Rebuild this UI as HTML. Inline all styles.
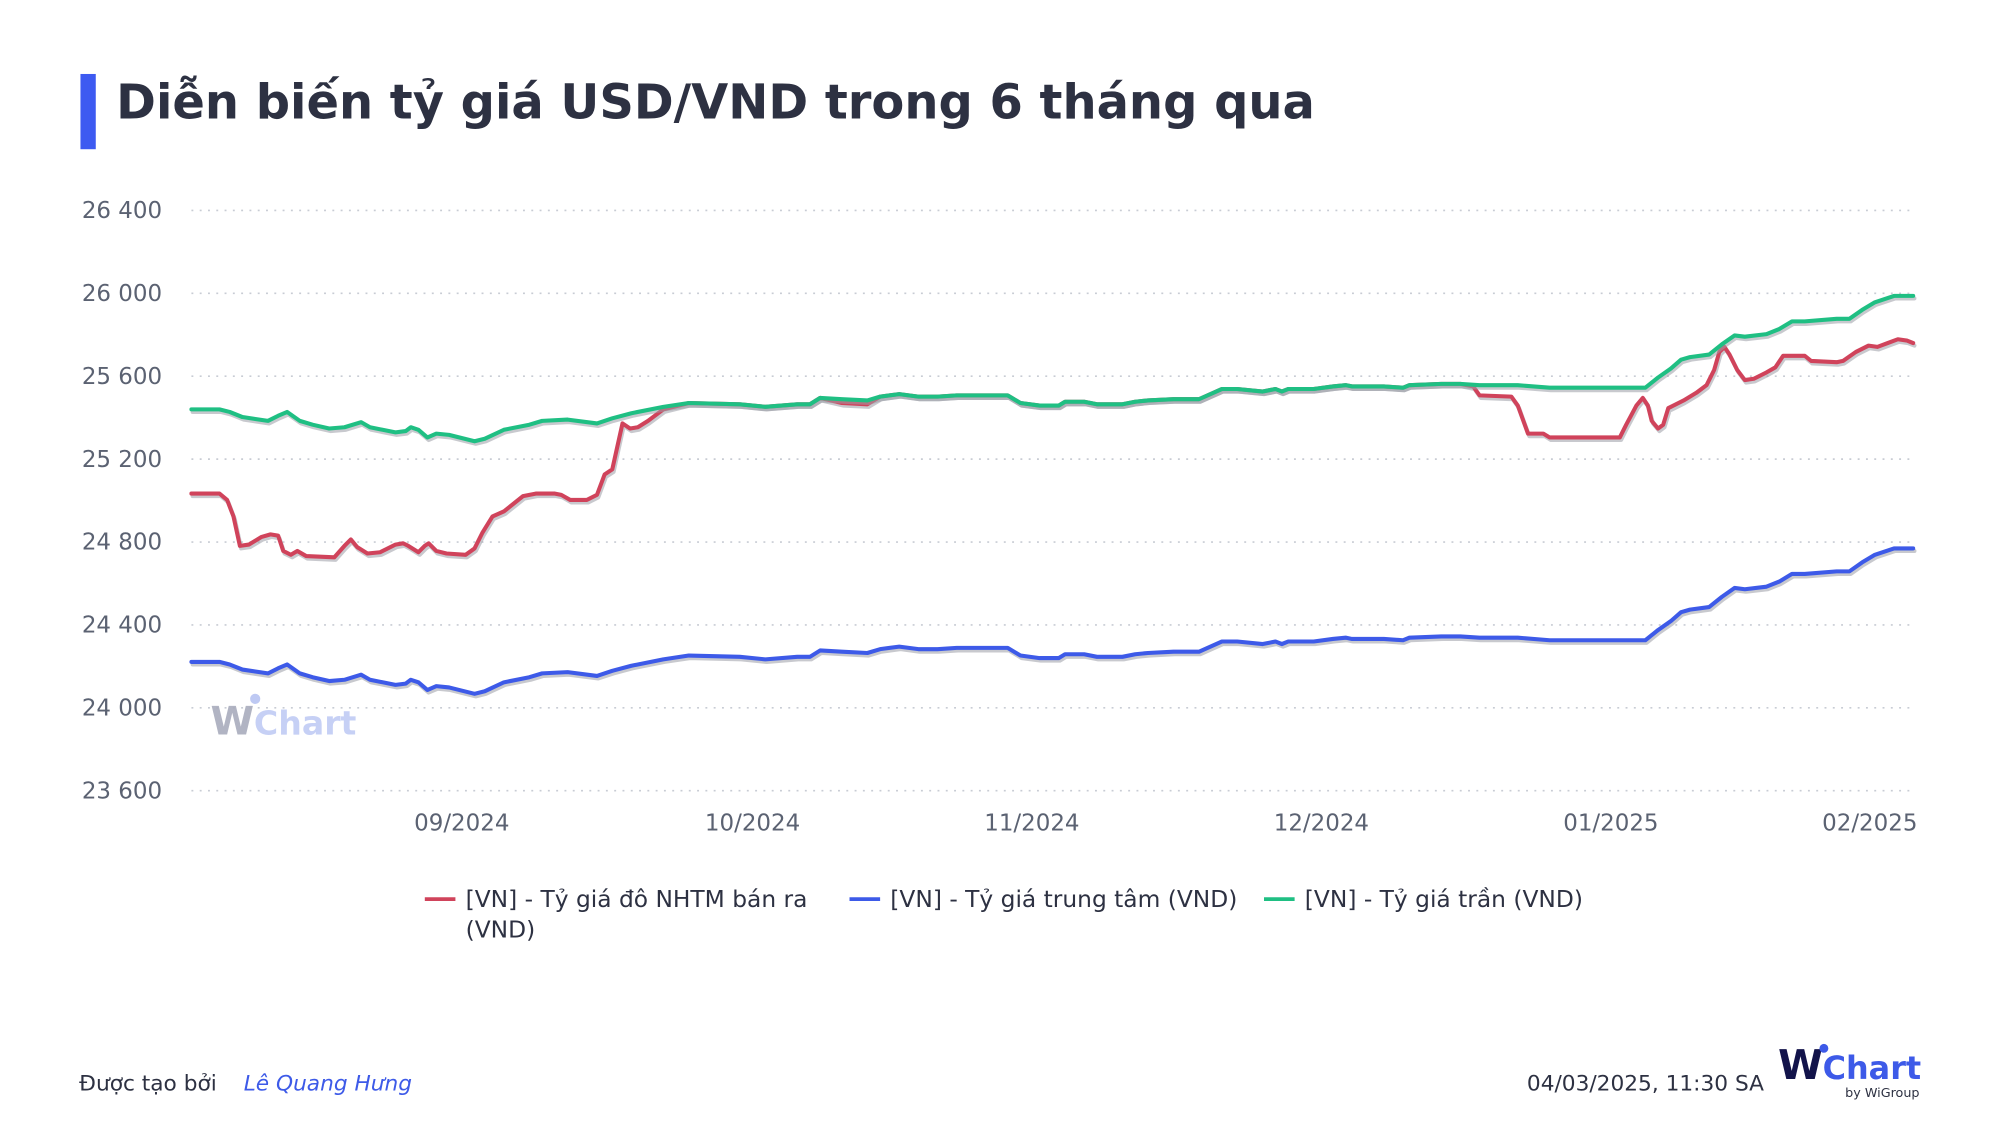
<!DOCTYPE html>
<html><head><meta charset="utf-8"><style>
html,body{margin:0;padding:0;background:#fff;width:2000px;height:1144px;overflow:hidden}
svg{display:block}
text{font-family:"DejaVu Sans","Liberation Sans",sans-serif}
</style></head><body>
<svg id="s" width="2000" height="1144" viewBox="0 0 1568 897" xmlns="http://www.w3.org/2000/svg">
<rect x="63" y="58" width="12" height="59" fill="#3d5af1"/>
<text x="91" y="93" font-size="37.6" font-weight="bold" fill="#2d3142">Diễn biến tỷ giá USD/VND trong 6 tháng qua</text>
<g id="grid" stroke="#c8ccd4" stroke-width="1.3" stroke-dasharray="1.5 5"></g>
<g id="ylab" font-size="18" fill="#5b6272" text-anchor="end"></g>
<g font-size="18" fill="#5b6272" text-anchor="middle">
<text x="362" y="651">09/2024</text><text x="590" y="651">10/2024</text><text x="809" y="651">11/2024</text>
<text x="1036" y="651">12/2024</text><text x="1263" y="651">01/2025</text><text x="1466" y="651">02/2025</text>
</g>
<g opacity="0.9"><text x="165" y="576" font-size="31" font-weight="bold" fill="#a9acbd">W</text>
<circle cx="200" cy="548" r="4" fill="#b8c4f2"/><text x="199" y="576" font-size="26" font-weight="bold" fill="#c0cbf5">Chart</text></g>
<g id="lines" fill="none" stroke-linejoin="round" stroke-linecap="round"></g>
<g font-size="18.3" fill="#2d3142">
<line x1="333" y1="705" x2="357" y2="705" stroke="#d0435b" stroke-width="3"/><text x="365" y="711">[VN] - Tỷ giá đô NHTM bán ra</text><text x="365" y="735">(VND)</text>
<line x1="666" y1="705" x2="690" y2="705" stroke="#3d5ae8" stroke-width="3"/><text x="698" y="711">[VN] - Tỷ giá trung tâm (VND)</text>
<line x1="991" y1="705" x2="1015" y2="705" stroke="#1fbf83" stroke-width="3"/><text x="1023" y="711">[VN] - Tỷ giá trần (VND)</text>
</g>
<text x="62" y="855" font-size="17" fill="#2d3142">Được tạo bởi</text>
<text x="191" y="855" font-size="17" font-style="italic" fill="#3d5ae8">Lê Quang Hưng</text>
<text x="1383" y="855" font-size="17" fill="#2d3142" text-anchor="end">04/03/2025, 11:30 SA</text>
<text x="1394" y="846" font-size="32" font-weight="bold" fill="#12134a">W</text>
<circle cx="1430" cy="822" r="3.5" fill="#3d5ae8"/>
<text x="1429" y="846" font-size="25" font-weight="bold" fill="#3d5ae8">Chart</text>
<text x="1505" y="860" font-size="10" fill="#2d3142" text-anchor="end">by WiGroup</text>
</svg>
<script>
const NS="http://www.w3.org/2000/svg";
function el(p,t,a){const e=document.createElementNS(NS,t);for(const k in a)e.setAttribute(k,a[k]);p.appendChild(e);return e;}
const grid=document.getElementById('grid'),yl=document.getElementById('ylab');
const vals=[26400,26000,25600,25200,24800,24400,24000,23600];
vals.forEach((v,i)=>{const y=165+i*65;el(grid,'line',{x1:150,y1:y,x2:1502,y2:y});
const t=el(yl,'text',{x:127,y:y+6});t.textContent=String(v).replace(/(\d\d)(\d{3})/,'$1 $2');});
const G=[[150,321],[172,321],[180,323],[190,327],[210,330],[218,326],[225,323],[235,330],[245,333],[258,336],[270,335],[283,331],[290,335],[310,339],[318,338],[322,335],[328,337],[335,343],[342,340],[352,341],[372,346],[380,344],[395,337],[415,333],[425,330],[445,329],[468,332],[480,328],[495,324],[520,319],[540,316],[580,317],[600,319],[625,317],[635,317],[643,312],[660,313],[680,314],[690,311],[705,309],[720,311],[735,311],[750,310],[790,310],[800,316],[815,318],[830,318],[835,315],[850,315],[860,317],[880,317],[890,315],[900,314],[920,313],[940,313],[958,305],[970,305],[990,307],[1000,305],[1005,307],[1010,305],[1030,305],[1045,303],[1055,302],[1060,303],[1085,303],[1100,304],[1105,302],[1130,301],[1145,301],[1160,302],[1170,302],[1190,302],[1215,304],[1290,304],[1300,296],[1310,289],[1318,282],[1325,280],[1340,278],[1350,270],[1360,263],[1368,264],[1385,262],[1395,258],[1405,252],[1415,252],[1440,250],[1450,250],[1460,243],[1470,237],[1485,232],[1500,232]];
const B=G.map(p=>[p[0],p[1]+198]);
const Rstart=[[150,387],[172,387],[178,392],[183,405],[188,428],[195,427],[205,421],[212,419],[218,420],[222,432],[228,435],[233,432],[240,436],[262,437],[270,428],[275,423],[280,429],[288,434],[298,433],[310,427],[316,426],[320,428],[328,433],[333,428],[336,426],[342,432],[350,434],[365,435],[372,430],[378,418],[386,405],[395,401],[410,389],[420,387],[435,387],[440,388],[447,392],[460,392],[468,388],[474,372],[480,368],[484,350],[488,332],[494,336],[500,335],[508,330],[520,321]];
const mid=G.filter(p=>p[0]>=540&&p[0]<=1145).map(p=>[p[0],(p[0]>=645&&p[0]<=685)?p[1]+3:p[1]]);
const Rend=[[1155,303],[1160,310],[1185,311],[1190,318],[1198,340],[1210,340],[1215,343],[1270,343],[1275,333],[1283,318],[1288,312],[1292,318],[1295,330],[1300,336],[1304,333],[1308,320],[1312,318],[1320,314],[1330,308],[1338,302],[1344,290],[1348,276],[1352,272],[1356,278],[1362,290],[1368,298],[1375,297],[1385,292],[1392,288],[1398,279],[1410,279],[1415,279],[1420,283],[1440,284],[1445,283],[1455,276],[1465,271],[1472,272],[1480,269],[1488,266],[1495,267],[1500,269]];
const R=Rstart.concat(mid,Rend);
const L=document.getElementById('lines');
function draw(pts,c){const d='M'+pts.map(p=>p[0]+','+p[1]).join('L');
el(L,'path',{d:d,stroke:'#9a9ca6','stroke-opacity':0.55,'stroke-width':3.2,transform:'translate(1,2)'});
el(L,'path',{d:d,stroke:c,'stroke-width':3.2});}
draw(B,'#3d5ae8');draw(R,'#d0435b');draw(G,'#1fbf83');
</script>
</body></html>
